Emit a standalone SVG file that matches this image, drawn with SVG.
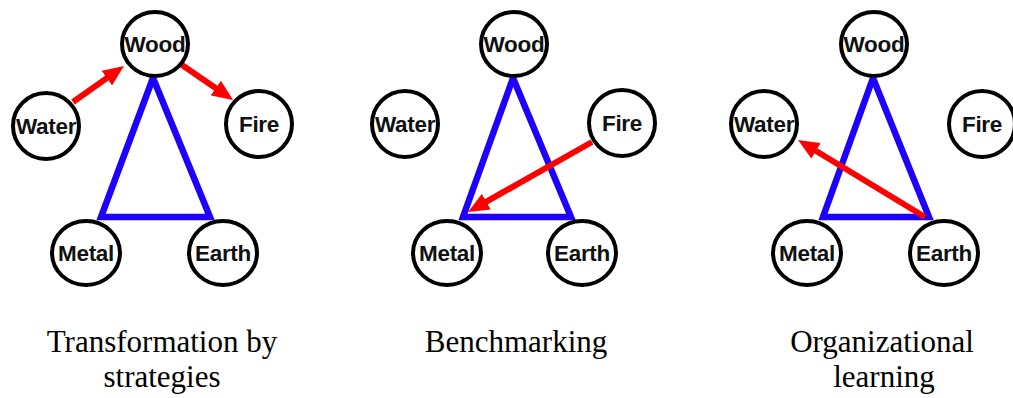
<svg xmlns="http://www.w3.org/2000/svg" width="1013" height="398" viewBox="0 0 1013 398">
<style>
.node ellipse{fill:#fff;stroke:#000;stroke-width:4}
.node text{font-family:"Liberation Sans",Arial,sans-serif;font-weight:bold;font-size:22.5px;text-anchor:middle;fill:#111;letter-spacing:-0.3px}
.tri{fill:none;stroke:#1e00ff;stroke-width:6.5;stroke-linejoin:miter}
.arr{stroke:#ff0000;stroke-width:6;fill:none;marker-end:url(#ah)}
.cap{font-family:"Liberation Serif","Times New Roman",serif;font-size:31px;text-anchor:middle;fill:#000}
</style>
<defs>
<marker id="ah" markerUnits="userSpaceOnUse" markerWidth="22" markerHeight="18" refX="9" refY="9" orient="auto">
<path d="M0,0 L21,9 L0,18 z" fill="#ff0000"/>
</marker>
</defs>
<rect width="1013" height="398" fill="#fff"/>
<g id="connectors">
<polygon class="tri" points="153,78 101,217 210,217"/>
<polygon class="tri" points="513,78 463,217 571,217"/>
<polygon class="tri" points="873,78 823,217 929,217"/>
<line class="arr" x1="73" y1="102" x2="114.2" y2="72.9"/>
<line class="arr" x1="182" y1="65" x2="223.2" y2="93.2"/>
<line class="arr" x1="592" y1="142" x2="478.5" y2="206.1"/>
<line class="arr" x1="925" y1="217" x2="808.3" y2="146.2"/>
</g>
<g id="p1-wood" class="node"><ellipse cx="155" cy="44" rx="33" ry="32"/><text x="155" y="52">Wood</text></g>
<g id="p1-water" class="node"><ellipse cx="46" cy="126" rx="33" ry="33"/><text x="46" y="134">Water</text></g>
<g id="p1-fire" class="node"><ellipse cx="259" cy="124" rx="33" ry="33"/><text x="259" y="132">Fire</text></g>
<g id="p1-metal" class="node"><ellipse cx="86" cy="253" rx="34" ry="32"/><text x="86" y="261">Metal</text></g>
<g id="p1-earth" class="node"><ellipse cx="223" cy="253" rx="34" ry="32"/><text x="223" y="261">Earth</text></g>
<g id="p2-wood" class="node"><ellipse cx="514" cy="44" rx="33" ry="32"/><text x="514" y="52">Wood</text></g>
<g id="p2-water" class="node"><ellipse cx="405" cy="124" rx="33" ry="33"/><text x="405" y="132">Water</text></g>
<g id="p2-fire" class="node"><ellipse cx="622" cy="123" rx="33" ry="33"/><text x="622" y="131">Fire</text></g>
<g id="p2-metal" class="node"><ellipse cx="447" cy="253" rx="34" ry="32"/><text x="447" y="261">Metal</text></g>
<g id="p2-earth" class="node"><ellipse cx="582" cy="253" rx="34" ry="32"/><text x="582" y="261">Earth</text></g>
<g id="p3-wood" class="node"><ellipse cx="874" cy="44" rx="33" ry="32"/><text x="874" y="52">Wood</text></g>
<g id="p3-water" class="node"><ellipse cx="764" cy="124" rx="33" ry="33"/><text x="764" y="132">Water</text></g>
<g id="p3-fire" class="node"><ellipse cx="982" cy="124" rx="33" ry="33"/><text x="982" y="132">Fire</text></g>
<g id="p3-metal" class="node"><ellipse cx="807" cy="253" rx="34" ry="32"/><text x="807" y="261">Metal</text></g>
<g id="p3-earth" class="node"><ellipse cx="944" cy="253" rx="34" ry="32"/><text x="944" y="261">Earth</text></g>
<g id="captions">
<text class="cap" x="162" y="352">Transformation by</text>
<text class="cap" x="162" y="387">strategies</text>
<text class="cap" x="516" y="352">Benchmarking</text>
<text class="cap" x="882" y="352">Organizational</text>
<text class="cap" x="884" y="387">learning</text>
</g>
</svg>
